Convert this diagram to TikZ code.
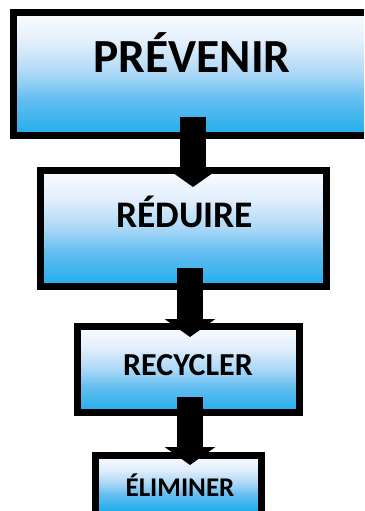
\documentclass[tikz,border=0pt]{standalone}
\usepackage{fontspec}
\setmainfont{Carlito}
\usetikzlibrary{arrows.meta}

\definecolor{fillbot}{RGB}{31,173,236}
\definecolor{fillmidA}{RGB}{100,190,240}
\definecolor{fillmidB}{RGB}{170,215,246}
\definecolor{fillmidC}{RGB}{225,238,251}
\definecolor{filltop}{RGB}{250,252,255}
\pgfdeclareverticalshading{stagefill}{100bp}{%
  color(0bp)=(fillbot); color(25bp)=(fillbot); color(40bp)=(fillmidA);
  color(50bp)=(fillmidB); color(62.5bp)=(fillmidC); color(75bp)=(filltop);
  color(100bp)=(filltop)}

\tikzset{
  stage/.style={draw=black, line width=7pt, shading=stagefill,
    rectangle, inner sep=0pt, outer sep=0pt},
  openstage/.style={stage, draw=none},
  rim/.style={draw=black, line width=7pt, line join=miter},
  label/.style={anchor=base, inner sep=0pt},
  flow/.style={draw=black, line width=26pt,
    -{Triangle[width=50pt,length=18pt]}}
}

\begin{document}
\begin{tikzpicture}[x=1pt,y=-1pt]
  \useasboundingbox (0,0) rectangle (364,511);

  % stage boxes (the first runs off the right edge, the last off the bottom)
  \node[openstage, minimum width=350.5pt, minimum height=123pt] (b1) at (188.75,74) {};
  \draw[rim] (b1.north east) -- (b1.north west) -- (b1.south west) -- (b1.south east);
  \node[stage, minimum width=286pt, minimum height=116pt] (b2) at (183.5,228.5) {};
  \node[stage, minimum width=222pt, minimum height=86pt]  (b3) at (188.5,369.5) {};
  \node[openstage, minimum width=166pt, minimum height=55.5pt] (b4) at (178.5,483.25) {};
  \draw[rim] (b4.south west) -- (b4.north west) -- (b4.north east) -- (b4.south east);

  % labels
  \node[label, font=\bfseries\fontsize{47.5}{50}\selectfont] (t1) at (192,73)  {PRÉVENIR};
  \node[label, font=\bfseries\fontsize{37.5}{40}\selectfont] (t2) at (184.5,227) {RÉDUIRE};
  \node[label, font=\bfseries\fontsize{32}{34}\selectfont]   (t3) at (188,375) {RECYCLER};
  \node[label, font=\bfseries\fontsize{27}{29}\selectfont]   (t4) at (180,496) {ÉLIMINER};

  % arrows between stages
  \draw[flow] ([shift={(4.25,-18.5)}]b1.south) -- ([shift={(9.5,16.5)}]b2.north);
  \draw[flow] ([shift={(6.5,-18.5)}]b2.south) -- ([shift={(1.5,10.5)}]b3.north);
  \draw[flow] ([shift={(1.5,-15.5)}]b3.south) -- ([shift={(11.5,9.5)}]b4.north);
\end{tikzpicture}
\end{document}
